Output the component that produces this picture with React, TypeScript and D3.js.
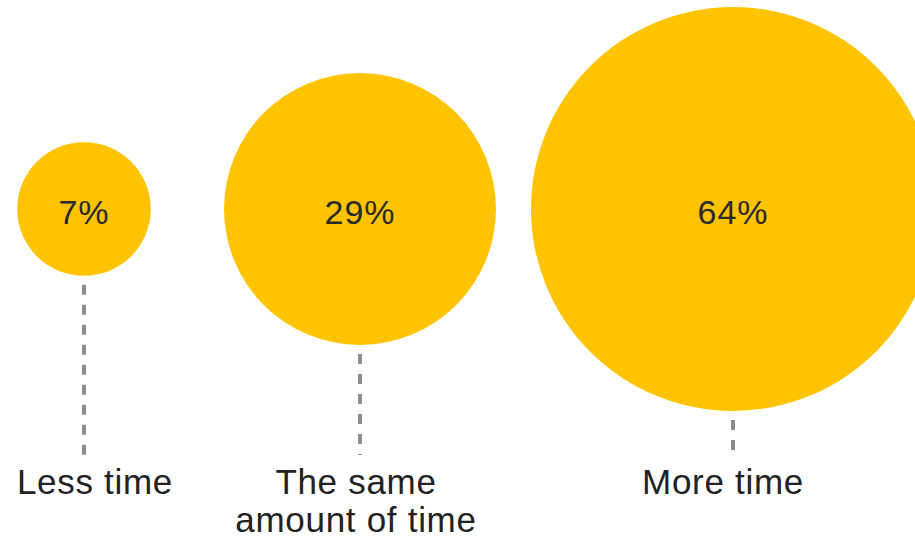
import React from "react";
import * as d3 from "d3";

const categories: string[][] = [["Less time"], ["The same", "amount of time"], ["More time"]];
const values: number[] = [7, 29, 64];
const valueLabels: string[] = ["7%", "29%", "64%"];

const W = 915;
const H = 539;

export default function App() {
  const cy = 209;
  const lineEnd = 455;
  const xs = [84, 360, 733];
  const labelShift = [11, -4, -10];
  const r = d3.scaleSqrt().domain([0, 64]).range([0, 202]);
  const font = "'Liberation Sans', Arial, sans-serif";
  return (
    <div style={{ position: "fixed", left: 0, top: 0, width: W, height: H, overflow: "hidden", background: "#fff" }}>
      <svg width={W} height={H} style={{ display: "block" }}>
        {values.map((v, i) => {
          const cx = xs[i];
          const rad = r(v);
          return (
            <g key={i}>
              <line x1={cx} x2={cx} y1={cy + rad + 9} y2={lineEnd} stroke="#8c8c8c" strokeWidth={4} strokeDasharray="10,10" />
              <circle cx={cx} cy={cy} r={rad} fill="#FFC300" />
              <text x={cx} y={cy + 15} textAnchor="middle" fontFamily={font} fontSize={34} letterSpacing={1} fill="#2a2a2a">
                {valueLabels[i]}
              </text>
              {categories[i].map((t, j) => (
                <text key={j} x={cx + labelShift[i]} y={494 + j * 38} textAnchor="middle" fontFamily={font} fontSize={35} letterSpacing={0.7} fill="#222">
                  {t}
                </text>
              ))}
            </g>
          );
        })}
      </svg>
    </div>
  );
}
